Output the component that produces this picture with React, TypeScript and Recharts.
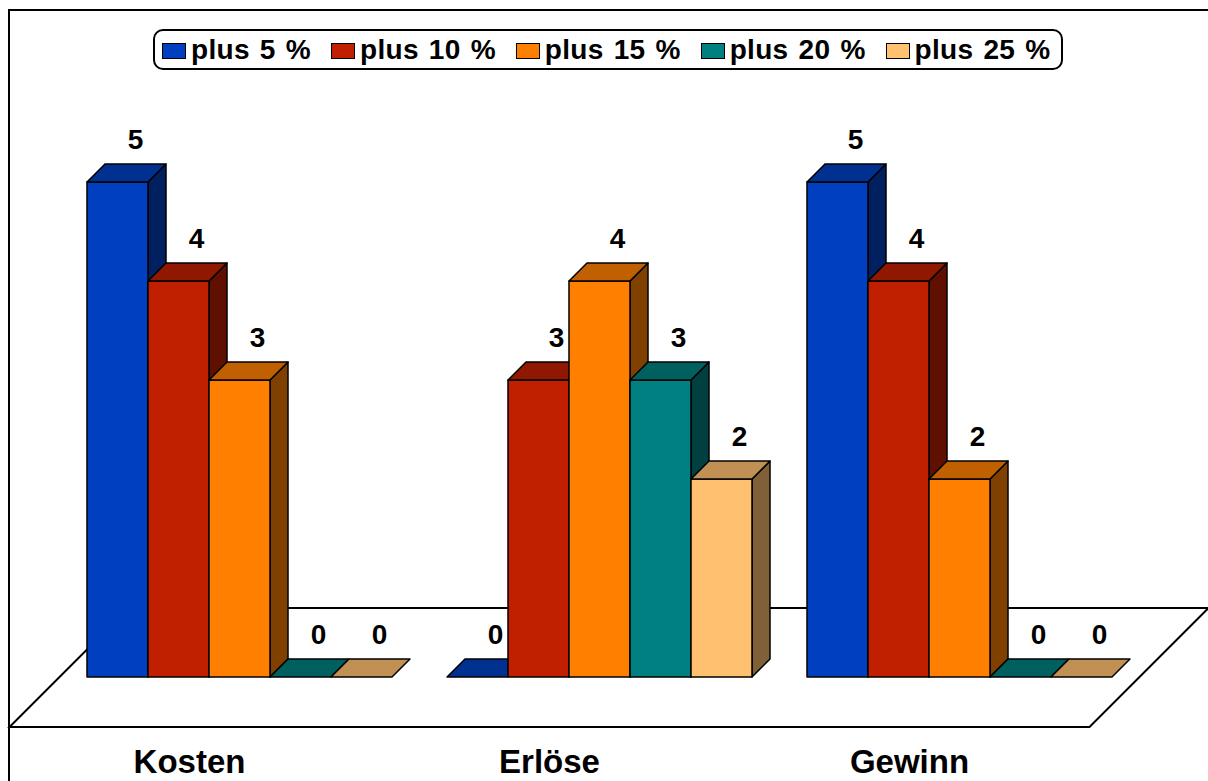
import { BarChart, Bar, XAxis, YAxis, Legend, LabelList, ReferenceArea } from 'recharts'

const CATEGORIES = ['Kosten', 'Erlöse', 'Gewinn']
const SERIES_NAMES = ['plus 5 %', 'plus 10 %', 'plus 15 %', 'plus 20 %', 'plus 25 %']
const PLUS_5 = [5, 0, 5]
const PLUS_10 = [4, 3, 4]
const PLUS_15 = [3, 4, 2]
const PLUS_20 = [0, 3, 0]
const PLUS_25 = [0, 2, 0]
const SERIES_VALUES = [PLUS_5, PLUS_10, PLUS_15, PLUS_20, PLUS_25]

// front / top / side shades for each series
const COLORS = [
  { front: '#0040C0', top: '#003090', side: '#002060' },
  { front: '#C02000', top: '#901800', side: '#601000' },
  { front: '#FF8000', top: '#C06000', side: '#804000' },
  { front: '#008080', top: '#006060', side: '#004040' },
  { front: '#FFC070', top: '#C09054', side: '#806038' },
]

const DEPTH = 18
const FONT = 'Arial, "Liberation Sans", Helvetica, sans-serif'

const rows = CATEGORIES.map((cat, i) => {
  const row: Record<string, string | number> = { cat }
  SERIES_VALUES.forEach((vals, s) => {
    row[`s${s}`] = vals[i]
  })
  return row
})

function makeBox(c: { front: string; top: string; side: string }) {
  return function Box3D(props: any) {
    const { x, y, width: w, height: h } = props
    if (x == null || y == null) return null
    const d = DEPTH
    const topPts = `${x},${y} ${x + d},${y - d} ${x + w + d},${y - d} ${x + w},${y}`
    const sidePts = `${x + w},${y} ${x + w + d},${y - d} ${x + w + d},${y + h - d} ${x + w},${y + h}`
    return (
      <g stroke="#000" strokeWidth={1.5} strokeLinejoin="round">
        {h > 0 && <polygon points={sidePts} fill={c.side} />}
        {h > 0 && <rect x={x} y={y} width={w} height={h} fill={c.front} />}
        <polygon points={topPts} fill={c.top} />
      </g>
    )
  }
}

function ValueLabel(props: any) {
  const { x, y, width, value } = props
  return (
    <text
      x={x + width / 2 + DEPTH}
      y={y - DEPTH - 15}
      textAnchor="middle"
      fontFamily={FONT}
      fontWeight="bold"
      fontSize={28}
      fill="#000"
    >
      {value}
    </text>
  )
}

// floor plate under the bars, projected forward and backward from the base line
function Floor(props: any) {
  const { x, y, width, height } = props
  const base = y + height
  const right = x + width
  const pts = `${x - 50},${base + 50} ${right - 50},${base + 50} ${right + 69},${base - 69} ${x + 69},${base - 69}`
  return <polygon points={pts} fill="#fff" stroke="#000" strokeWidth={2} />
}

function CategoryTick(props: any) {
  const { x, y, payload } = props
  return (
    <text x={x - 50} y={y + 96} textAnchor="middle" fontFamily={FONT} fontWeight="bold" fontSize={33} fill="#000">
      {payload.value}
    </text>
  )
}

function LegendBox() {
  return (
    <div
      style={{
        boxSizing: 'border-box',
        width: 910,
        height: 41,
        border: '2px solid #000',
        borderRadius: 10,
        display: 'flex',
        alignItems: 'center',
        paddingLeft: 7,
        background: '#fff',
        whiteSpace: 'nowrap',
      }}
    >
      {SERIES_NAMES.map((name, s) => (
        <div key={name} style={{ display: 'flex', alignItems: 'center', marginRight: 20 }}>
          <span
            style={{
              boxSizing: 'border-box',
              width: 24,
              height: 16,
              background: COLORS[s].front,
              border: '1.5px solid #000',
              marginRight: 5,
              marginTop: 2,
            }}
          />
          <span
            style={{
              fontFamily: FONT,
              fontWeight: 'bold',
              fontSize: 28,
              letterSpacing: 0.3,
              wordSpacing: 2,
              color: '#000',
              lineHeight: '30px',
            }}
          >
            {name}
          </span>
        </div>
      ))}
    </div>
  )
}

export default function App() {
  return (
    <div style={{ position: 'absolute', left: 0, top: 0, width: 1208, height: 781, background: '#fff', overflow: 'hidden' }}>
      <div
        style={{
          position: 'absolute',
          left: 8,
          top: 9,
          width: 1220,
          height: 800,
          borderTop: '2px solid #000',
          borderLeft: '2px solid #000',
        }}
      />
      <div style={{ position: 'absolute', left: 0, top: 0 }}>
        <BarChart
          width={1208}
          height={781}
          data={rows}
          margin={{ top: 182, left: 59.5, right: 68.5, bottom: 0 }}
          barGap={0}
          barCategoryGap={27.5}
        >
          <XAxis
            dataKey="cat"
            height={104}
            axisLine={false}
            tickLine={false}
            tickSize={0}
            tickMargin={0}
            tick={<CategoryTick />}
          />
          <YAxis hide type="number" domain={[0, 5]} />
          <ReferenceArea y1={0} y2={5} shape={<Floor />} />
          <Legend
            layout="horizontal"
            verticalAlign="middle"
            align="center"
            width={910}
            height={41}
            wrapperStyle={{ top: 29, left: 153 }}
            content={<LegendBox />}
          />
          {SERIES_NAMES.map((name, s) => (
            <Bar
              key={name}
              dataKey={`s${s}`}
              name={name}
              fill={COLORS[s].front}
              shape={makeBox(COLORS[s])}
              isAnimationActive={false}
            >
              <LabelList dataKey={`s${s}`} content={<ValueLabel />} />
            </Bar>
          ))}
        </BarChart>
      </div>
    </div>
  )
}
